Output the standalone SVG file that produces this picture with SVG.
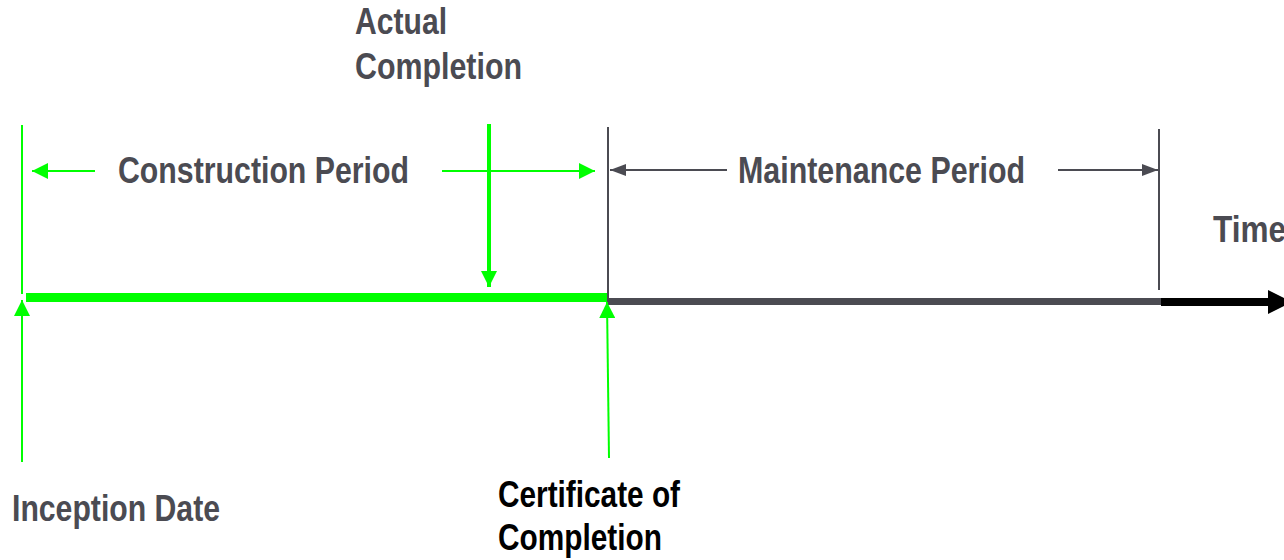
<svg xmlns="http://www.w3.org/2000/svg" width="1284" height="560" viewBox="0 0 1284 560">
<style>
.t{font-family:"Liberation Sans",Arial,sans-serif;font-weight:bold;font-size:36px;fill:#4b4b52}
.k{fill:#000}
.g{stroke:#00ff00;stroke-width:2;fill:none}
.g4{stroke:#00ff00;stroke-width:4;fill:none}
.d{stroke:#4b4b52;stroke-width:2;fill:none}
</style>
<defs>
<marker id="ag" markerUnits="userSpaceOnUse" markerWidth="16" markerHeight="16" refX="16" refY="8" orient="auto"><path d="M0,0 L16,8 L0,16 z" fill="#00ff00"/></marker>
<marker id="ad" markerUnits="userSpaceOnUse" markerWidth="16" markerHeight="12" refX="16" refY="6" orient="auto"><path d="M0,0 L16,6 L0,12 z" fill="#4b4b52"/></marker>
<marker id="ak" markerUnits="userSpaceOnUse" markerWidth="24" markerHeight="24" refX="24" refY="12" orient="auto"><path d="M0,0 L24,12 L0,24 z" fill="#000"/></marker>
</defs>
<rect width="1284" height="560" fill="#fff"/>
<g id="connectors">
<line class="g" x1="22" y1="125" x2="22" y2="294"/>
<line class="g" x1="22" y1="462" x2="22" y2="300" marker-end="url(#ag)"/>
<rect x="26" y="293" width="581" height="9" fill="#00ff00"/>
<rect x="607" y="298" width="554" height="7" fill="#4b4b52"/>
<line x1="1161" y1="302" x2="1292" y2="302" stroke="#000" stroke-width="8" marker-end="url(#ak)"/>
<line class="g" x1="95" y1="171" x2="32" y2="171" marker-end="url(#ag)"/>
<line class="g" x1="442" y1="171" x2="595" y2="171" marker-end="url(#ag)"/>
<line class="g4" x1="489" y1="124" x2="489" y2="287" marker-end="url(#ag)"/>
<line class="d" x1="608" y1="127" x2="608" y2="298"/>
<line class="d" x1="727" y1="170" x2="610" y2="170" marker-end="url(#ad)"/>
<line class="d" x1="1058" y1="170" x2="1158" y2="170" marker-end="url(#ad)"/>
<line class="d" x1="1159" y1="129" x2="1159" y2="290"/>
<line class="g" x1="609" y1="458" x2="607" y2="302" marker-end="url(#ag)"/>
</g>
<g id="actual-completion">
<text class="t" x="355" y="34" textLength="92" lengthAdjust="spacingAndGlyphs">Actual</text>
<text class="t" x="355" y="79" textLength="167" lengthAdjust="spacingAndGlyphs">Completion</text>
</g>
<g id="construction-period">
<text class="t" x="118" y="183" textLength="291" lengthAdjust="spacingAndGlyphs">Construction Period</text>
</g>
<g id="maintenance-period">
<text class="t" x="738" y="183" textLength="287" lengthAdjust="spacingAndGlyphs">Maintenance Period</text>
</g>
<g id="time">
<text class="t" x="1213" y="242" textLength="73" lengthAdjust="spacingAndGlyphs">Time</text>
</g>
<g id="inception-date">
<text class="t" x="12" y="521" textLength="208" lengthAdjust="spacingAndGlyphs">Inception Date</text>
</g>
<g id="certificate">
<text class="t k" x="498" y="507" textLength="182" lengthAdjust="spacingAndGlyphs">Certificate of</text>
<text class="t k" x="498" y="550" textLength="164" lengthAdjust="spacingAndGlyphs">Completion</text>
</g>
</svg>
